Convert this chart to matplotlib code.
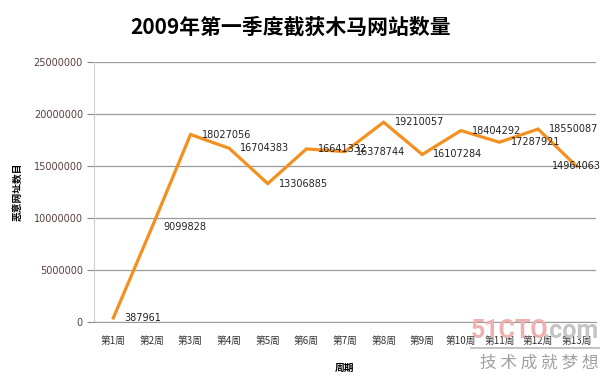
import matplotlib
matplotlib.use('Agg')
import matplotlib.pyplot as plt
from matplotlib.lines import Line2D
import numpy as np

plt.rcParams['font.family'] = ['Noto Sans CJK SC', 'DejaVu Sans']

# 数据
weeks = ['第1周', '第2周', '第3周', '第4周', '第5周', '第6周', '第7周',
         '第8周', '第9周', '第10周', '第11周', '第12周', '第13周']
counts = [387961, 9099828, 18027056, 16704383, 13306885, 16641332, 16378744,
          19210057, 16107284, 18404292, 17287921, 18550087, 14964063]
yticks = [0, 5000000, 10000000, 15000000, 20000000, 25000000]

W, H = 606, 381
fig = plt.figure(figsize=(W/100, H/100), dpi=100)
ax = fig.add_axes([94/W, 1-322/H, 502/W, 260/H])

# 水印 (放在最底层)
wm_font = ['Roboto', 'DejaVu Sans']
fig.text(471/W, 1-331/H, '51CTO', ha='left', va='center', fontsize=18,
         fontweight='bold', color='#efb0b0', family=wm_font, zorder=0)
fig.text(599/W, 1-331/H, '.com', ha='right', va='center', fontsize=18,
         fontweight='bold', color='#c4c4c4', family=wm_font, zorder=0)
fig.add_artist(Line2D([471/W, 599/W], [1-348/H, 1-348/H], color='#b8b8b8',
                      linewidth=1.2, zorder=0))
fig.text(599/W, 1-363/H, '技 术 成 就 梦 想', ha='right', va='center', fontsize=12,
         color='#a0a0a0', zorder=0)

x = np.arange(len(weeks))
ax.plot(x, counts, color='#F39020', linewidth=2.3, solid_joinstyle='miter', zorder=3)

# 数据标签
for i, (xi, v) in enumerate(zip(x, counts)):
    if i == len(counts) - 1:
        off, ha = (0, 0), 'center'
    else:
        off, ha = (8, 0), 'left'
    ax.annotate(str(v), (xi, v), xytext=off, textcoords='offset points',
                ha=ha, va='center', fontsize=7, color='#222222',
                family=['DejaVu Sans'], zorder=4)

ax.set_xlim(-0.5, len(weeks) - 0.5)
ax.set_ylim(0, 25000000)
ax.set_yticks(yticks)
ax.set_yticklabels([str(t) for t in yticks], family=['DejaVu Sans'])
ax.set_xticks(x)
ax.set_xticklabels(weeks)
ax.tick_params(axis='y', labelsize=7, labelcolor='#5a3c3c', color='#888888', length=5, pad=3)
ax.tick_params(axis='x', labelsize=7, labelcolor='#333333', length=0, pad=10)
ax.grid(axis='y', color='#9a9a9a', linewidth=0.9)
ax.set_axisbelow(True)
ax.patch.set_alpha(0)
for s in ['top', 'right']:
    ax.spines[s].set_visible(False)
ax.spines['left'].set_color('#cccccc')
ax.spines['bottom'].set_color('#9a9a9a')

ax.set_ylabel('恶意网址数目', fontsize=7, labelpad=8, fontweight='bold')
ax.set_xlabel('周期', fontsize=7, labelpad=12, fontweight='bold')

fig.text(291/W, 1-27/H, '2009年第一季度截获木马网站数量', ha='center', va='center',
         fontsize=15, fontweight='bold', color='#000000')

fig.savefig('out.png', dpi=100)
